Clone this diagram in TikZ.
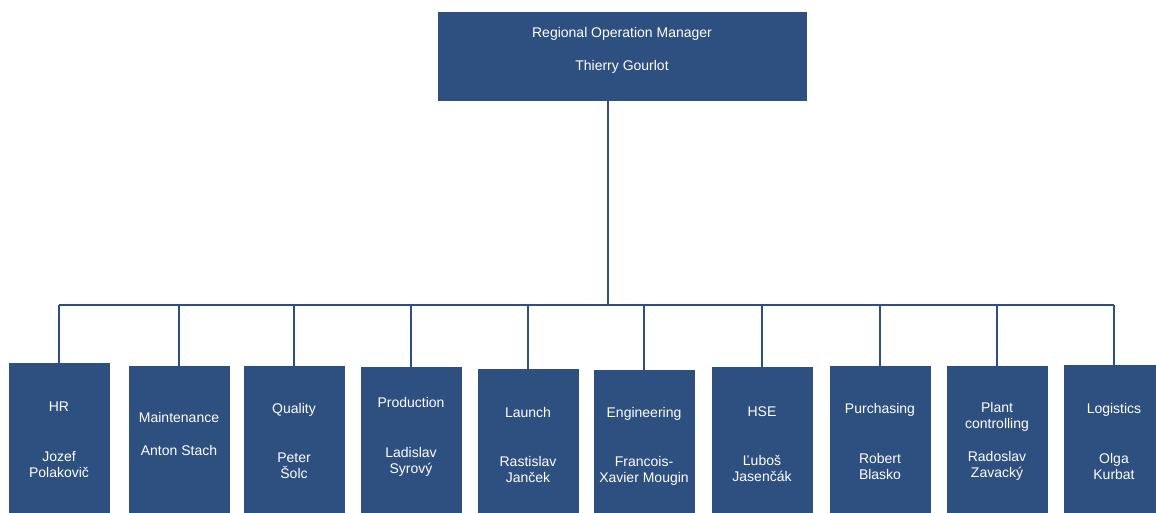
\documentclass[tikz,border=0pt]{standalone}
\usepackage{fontspec}
\setmainfont{Liberation Sans}
\usetikzlibrary{positioning}
\definecolor{custom-blue}{RGB}{46, 80, 128}

\begin{document}
\begin{tikzpicture}[x=1pt, y=-1pt,
    unit/.style={rectangle, fill=custom-blue, inner sep=0pt, anchor=north,
        minimum width=101pt, minimum height=160pt},
    caption/.style={text=white, align=center, inner sep=0pt,
        font=\fontsize{14}{16}\selectfont},
    link/.style={draw=custom-blue, line width=2pt}]
\useasboundingbox (0,0) rectangle (1156,513);
\clip (0,0) rectangle (1156,513);

% head of the plant
\node[unit, minimum width=369pt, minimum height=89pt] (manager) at (622,12) {};
\node[caption, below=15pt of manager.north] (manager-txt) {Regional Operation Manager\\[17pt]Thierry Gourlot};

% departments
\node[unit] (hr) at (59,363) {};
\node[unit] (maint) at (179,366) {};
\node[unit] (quality) at (294,366) {};
\node[unit] (prod) at (411,367) {};
\node[unit] (launch) at (528,369) {};
\node[unit] (eng) at (644,370) {};
\node[unit] (hse) at (762,367) {};
\node[unit] (purch) at (880,366) {};
\node[unit] (ctrl) at (997,366) {};
\node[unit] (logi) at (1114,365) {};

\node[caption, below=39pt of hr.north] (hr-txt) {HR\\[34pt]Jozef\\Polakovič};
\node[caption, below=46pt of maint.north] (maint-txt) {Maintenance\\[17pt]Anton Stach};
\node[caption, below=37pt of quality.north] (quality-txt) {Quality\\[33pt]Peter\\Šolc};
\node[caption, below=30pt of prod.north] (prod-txt) {Production\\[34pt]Ladislav\\Syrový};
\node[caption, below=38pt of launch.north] (launch-txt) {Launch\\[33pt]Rastislav\\Janček};
\node[caption, below=37pt of eng.north] (eng-txt) {Engineering\\[33pt]Francois-\\Xavier Mougin};
\node[caption, below=40pt of hse.north] (hse-txt) {HSE\\[33pt]Ľuboš\\Jasenčák};
\node[caption, below=37pt of purch.north] (purch-txt) {Purchasing\\[34pt]Robert\\Blasko};
\node[caption, below=36pt of ctrl.north] (ctrl-txt) {Plant\\controlling\\[17pt]Radoslav\\Zavacký};
\node[caption, below=38pt of logi.north] (logi-txt) {Logistics\\[34pt]Olga\\Kurbat};

% reporting lines
\coordinate (bus) at (608,305);
\draw[link] (manager.south -| bus) -- (bus);
\draw[link] (bus -| hr.north) -- (bus -| logi.north);
\foreach \u in {hr,maint,quality,prod,launch,eng,hse,purch,ctrl,logi}
    \draw[link] (bus -| \u.north) -- (\u.north);
\end{tikzpicture}
\end{document}
